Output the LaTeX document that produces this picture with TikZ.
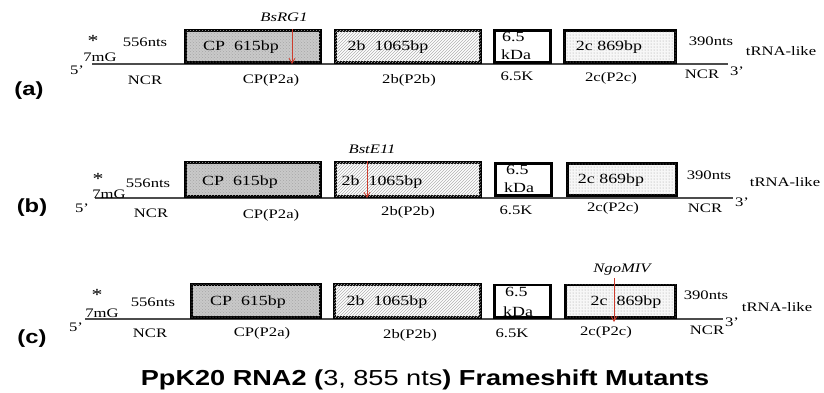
\documentclass[tikz,border=0pt]{standalone}
\usepackage{fontspec}
\setmainfont{Liberation Serif}[FakeStretch=1.28]
\setsansfont{Liberation Sans}[FakeStretch=1.25]
\usetikzlibrary{patterns,arrows.meta}
\definecolor{cutred}{RGB}{205,60,45}
\tikzset{
  txt/.style={inner sep=0pt, font=\fontsize{13}{14}\selectfont},
  boxtxt/.style={inner sep=0pt, font=\fontsize{14}{15}\selectfont},
  enz/.style={inner sep=0pt, font=\fontsize{13}{14}\selectfont\itshape},
  star/.style={inner sep=0pt, font=\fontsize{17}{18}\selectfont},
  rowlab/.style={inner sep=0pt, font=\sffamily\bfseries\fontsize{19}{20}\selectfont},
  gene/.style={draw=black, line width=2.6pt, inner sep=0pt},
  cpbox/.style={gene, fill=gray!42, postaction={pattern=crosshatch dots, pattern color=gray!70}},
  hatchbox/.style={gene, fill=white, postaction={pattern=north east lines, pattern color=gray!60}},
  plainbox/.style={gene, fill=white},
  dotbox/.style={gene, fill=gray!6, postaction={pattern=dots, pattern color=gray!80}},
  rna/.style={draw=gray!60!black, line width=1.2pt},
  cut/.style={draw=cutred, line width=0.8pt, -{Straight Barb[length=5pt,width=6pt]}}
}
\begin{document}
\begin{tikzpicture}[x=1pt,y=-1pt]
\useasboundingbox (0,0) rectangle (824,392);

% ---------------- Row (a) ----------------
\coordinate (a5) at (92,64);
\coordinate (a3) at (728,64);
\draw[rna] (a5) -- (a3);
\node[cpbox, minimum width=135.4pt, minimum height=32.4pt] (aCP) at (253,46.5) {};
\node[hatchbox, minimum width=145.4pt, minimum height=32.4pt] (a2b) at (408,46.5) {};
\node[plainbox, minimum width=56.4pt, minimum height=32.4pt] (a65) at (522.5,46.5) {};
\node[dotbox, minimum width=111.4pt, minimum height=32.4pt] (a2c) at (620,46.5) {};
\node[boxtxt] (aCPt) at (241,47) {CP\ \ 615bp};
\node[boxtxt] (a2bt) at (388,47) {2b\ \ 1065bp};
\node[boxtxt, anchor=west] (a65t) at (502,37) {6.5};
\node[boxtxt, anchor=west] (akDa) at (501,55) {kDa};
\node[boxtxt] (a2ct) at (609,47) {2c 869bp};
\node[star] (astar) at (93,41) {*};
\node[txt] (a7mG) at (100,57) {7mG};
\node[txt] (a5p) at (77,70) {5’};
\node[txt] (ant) at (145,42) {556nts};
\node[txt] (ancr) at (145,80) {NCR};
\node[txt] (aCPl) at (271,80) {CP(P2a)};
\node[txt] (a2bl) at (409,80) {2b(P2b)};
\node[txt] (a65l) at (517,76) {6.5K};
\node[txt] (a2cl) at (611,78) {2c(P2c)};
\node[txt] (a390) at (711,41) {390nts};
\node[txt] (atrna) at (781,51) {tRNA-like};
\node[txt] (ancr3) at (702,74) {NCR};
\node[txt] (a3p) at (737,71) {3’};
\node[enz] (aenz) at (284,17) {BsRG1};
\node[rowlab] (alab) at (29,91) {(a)};
\coordinate (aAt) at (292,29);
\coordinate (aAb) at (292,64);
\draw[cut] (aAt) -- (aAb);

% ---------------- Row (b) ----------------
\coordinate (b5) at (95,198);
\coordinate (b3) at (733,198);
\draw[rna] (b5) -- (b3);
\node[cpbox, minimum width=135.4pt, minimum height=34.4pt] (bCP) at (253,179.5) {};
\node[hatchbox, minimum width=145.4pt, minimum height=34.4pt] (b2b) at (408,179.5) {};
\node[plainbox, minimum width=56.4pt, minimum height=32.4pt] (b65) at (523.5,179.5) {};
\node[dotbox, minimum width=109.4pt, minimum height=32.4pt] (b2c) at (622,179.5) {};
\node[boxtxt] (bCPt) at (240,182) {CP\ \ 615bp};
\node[boxtxt] (b2bt) at (382,182) {2b\ \ 1065bp};
\node[boxtxt, anchor=west] (b65t) at (506,170) {6.5};
\node[boxtxt, anchor=west] (bkDa) at (504,188) {kDa};
\node[boxtxt] (b2ct) at (611,180) {2c 869bp};
\node[star] (bstar) at (98,179) {*};
\node[txt] (b7mG) at (109,194) {7mG};
\node[txt] (b5p) at (82,208) {5’};
\node[txt] (bnt) at (148,183) {556nts};
\node[txt] (bncr) at (151,213) {NCR};
\node[txt] (bCPl) at (271,215) {CP(P2a)};
\node[txt] (b2bl) at (408,212) {2b(P2b)};
\node[txt] (b65l) at (516,210) {6.5K};
\node[txt] (b2cl) at (613,208) {2c(P2c)};
\node[txt] (b390) at (709,175) {390nts};
\node[txt] (btrna) at (785,182) {tRNA-like};
\node[txt] (bncr3) at (705,208) {NCR};
\node[txt] (b3p) at (742,202) {3’};
\node[enz] (benz) at (372,149) {BstE11};
\node[rowlab] (blab) at (32,208) {(b)};
\coordinate (bAt) at (367,161);
\coordinate (bAb) at (367,198);
\draw[cut] (bAt) -- (bAb);

% ---------------- Row (c) ----------------
\coordinate (c5) at (85,319);
\coordinate (c3) at (723,319);
\draw[rna] (c5) -- (c3);
\node[cpbox, minimum width=129.4pt, minimum height=33.4pt] (cCP) at (256,301) {};
\node[hatchbox, minimum width=146.4pt, minimum height=33.4pt] (c2b) at (407.5,301) {};
\node[plainbox, minimum width=56.4pt, minimum height=32.4pt] (c65) at (522.5,301) {};
\node[dotbox, minimum width=110.4pt, minimum height=32.4pt] (c2c) at (620.5,301) {};
\node[boxtxt] (cCPt) at (248,302) {CP\ \ 615bp};
\node[boxtxt] (c2bt) at (387,302) {2b\ \ 1065bp};
\node[boxtxt, anchor=west] (c65t) at (505,292) {6.5};
\node[boxtxt, anchor=west] (ckDa) at (503,312) {kDa};
\node[boxtxt] (c2ct) at (626,302) {2c\ \ 869bp};
\node[star] (cstar) at (97,295) {*};
\node[txt] (c7mG) at (102,313) {7mG};
\node[txt] (c5p) at (76,327) {5’};
\node[txt] (cnt) at (153,302) {556nts};
\node[txt] (cncr) at (150,333) {NCR};
\node[txt] (cCPl) at (262,333) {CP(P2a)};
\node[txt] (c2bl) at (410,335) {2b(P2b)};
\node[txt] (c65l) at (512,333) {6.5K};
\node[txt] (c2cl) at (606,332) {2c(P2c)};
\node[txt] (c390) at (706,295) {390nts};
\node[txt] (ctrna) at (777,307) {tRNA-like};
\node[txt] (cncr3) at (707,330) {NCR};
\node[txt] (c3p) at (732,322) {3’};
\node[enz] (cenz) at (622,270) {NgoMIV};
\node[rowlab] (clab) at (32,339) {(c)};
\coordinate (cAt) at (614,278);
\coordinate (cAb) at (614,322);
\draw[cut] (cAt) -- (cAb);

% ---------------- Title ----------------
\node[inner sep=0pt, font=\sffamily\fontsize{21.7}{23}\selectfont] (title) at (425,380)
  {\textbf{PpK20 RNA2 (}3, 855 nts\textbf{) Frameshift Mutants}};
\end{tikzpicture}
\end{document}
